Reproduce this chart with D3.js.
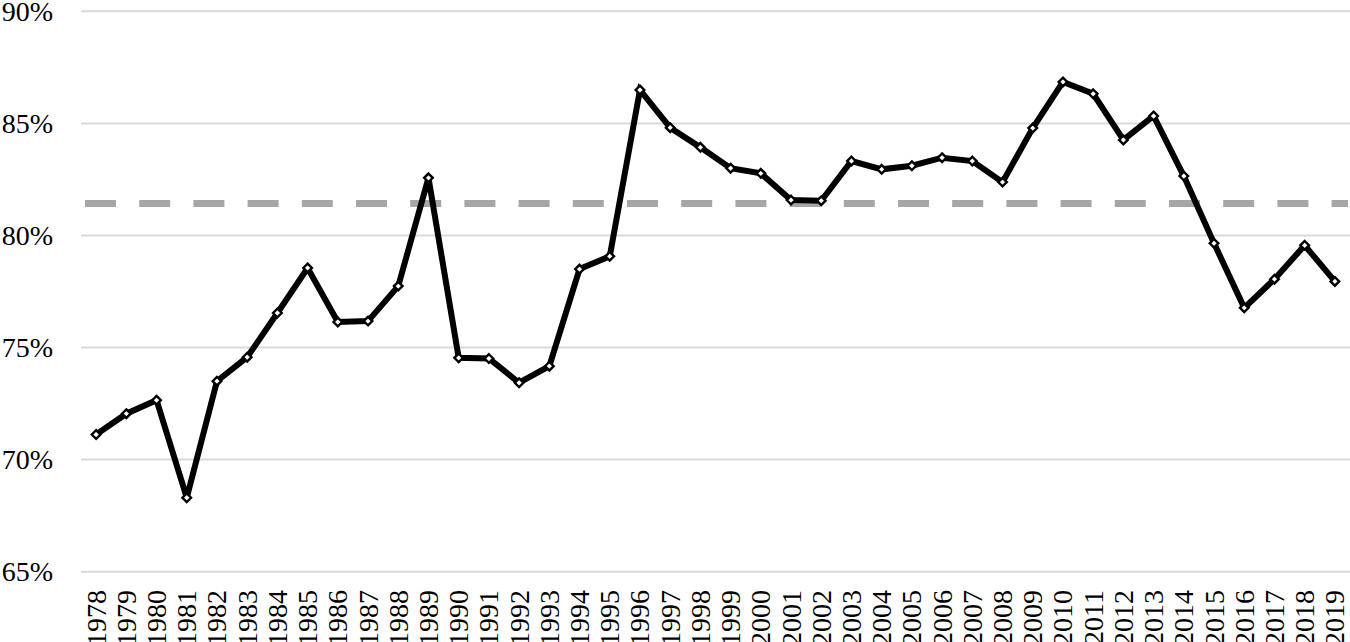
<!DOCTYPE html>
<html>
<head>
<meta charset="utf-8">
<script src="https://cdn.jsdelivr.net/npm/d3@7"></script>
<style>
html,body{margin:0;padding:0;background:#fff;overflow:hidden;}
text{font-family:"Liberation Serif","Times New Roman",serif;fill:#000;}
</style>
</head>
<body>
<svg id="chart" width="1350" height="642"></svg>
<script>
const years = [1978,1979,1980,1981,1982,1983,1984,1985,1986,1987,1988,1989,1990,1991,1992,1993,1994,1995,1996,1997,1998,1999,2000,2001,2002,2003,2004,2005,2006,2007,2008,2009,2010,2011,2012,2013,2014,2015,2016,2017,2018,2019];
const values = [71.12,72.05,72.65,68.30,73.50,74.57,76.54,78.55,76.14,76.18,77.74,82.57,74.54,74.51,73.43,74.17,78.50,79.07,86.49,84.81,83.93,83.00,82.77,81.58,81.55,83.32,82.95,83.11,83.47,83.32,82.38,84.79,86.85,86.32,84.26,85.33,82.65,79.65,76.77,78.05,79.56,77.95];
const averageValue = [81.43];
const yTicks = [65,70,75,80,85,90];

const svg = d3.select("#chart");
const x = d3.scaleBand().domain(years).range([81,1350]).padding(0);
const y = d3.scaleLinear().domain([65,90]).range([571.7,11.3]);

// gridlines
svg.append("g").selectAll("line").data(yTicks).join("line")
  .attr("x1",81).attr("x2",1350)
  .attr("y1",d=>y(d)).attr("y2",d=>y(d))
  .attr("stroke","#d9d9d9").attr("stroke-width",2);

// y axis labels
const yAxis = d3.axisLeft(y).tickValues(yTicks).tickFormat(d=>d+"%").tickSize(0).tickPadding(0);
const gy = svg.append("g").attr("transform","translate(53,0)").call(yAxis);
gy.select(".domain").remove();
gy.selectAll("text").attr("font-size",28).attr("dy","0.33em");

// x axis labels
const xAxis = d3.axisBottom(x).tickSize(0).tickPadding(0);
const gx = svg.append("g").attr("transform","translate(0,590)").call(xAxis);
gx.select(".domain").remove();
gx.selectAll("text")
  .attr("font-size",28)
  .attr("text-anchor","end")
  .attr("transform","rotate(-90)")
  .attr("x",0).attr("y",0).attr("dy","0.34em");

// average dashed line
svg.append("g").selectAll("line").data(averageValue).join("line")
  .attr("x1",85).attr("x2",1348)
  .attr("y1",d=>y(d)).attr("y2",d=>y(d))
  .attr("stroke","#a6a6a6").attr("stroke-width",7)
  .attr("stroke-dasharray","31,23.2");

const data = years.map((yr,i)=>({yr, v:values[i]}));
const cx = d=>x(d.yr)+x.bandwidth()/2;

svg.append("path").datum(data)
  .attr("fill","none").attr("stroke","#000").attr("stroke-width",6)
  .attr("stroke-linejoin","miter").attr("stroke-miterlimit",3)
  .attr("d",d3.line().x(cx).y(d=>y(d.v)));

const r = 4.3;
svg.append("g").selectAll("path").data(data).join("path")
  .attr("d",`M0,${-r}L${r},0L0,${r}L${-r},0Z`)
  .attr("transform",d=>`translate(${cx(d)},${y(d.v)})`)
  .attr("fill","#fff").attr("stroke","#000").attr("stroke-width",2.4);
</script>
</body>
</html>
